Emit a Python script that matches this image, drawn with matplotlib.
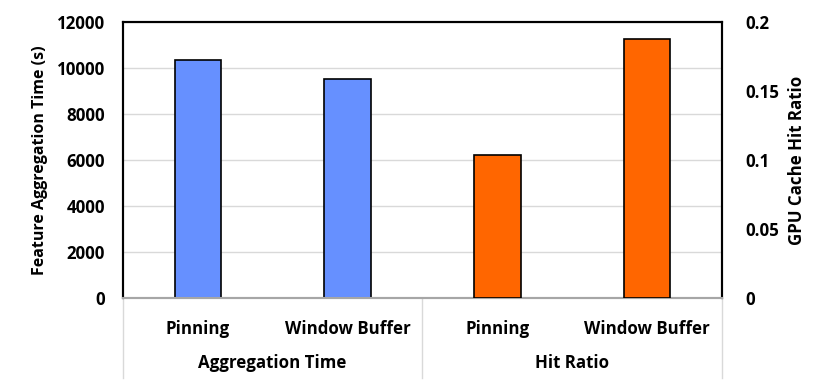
import matplotlib.pyplot as plt
from matplotlib.lines import Line2D
from matplotlib import rc

rc('font', family='Open Sans', weight='bold')
rc('axes', labelweight='bold')

# data
methods = ['Pinning', 'Window Buffer', 'Pinning', 'Window Buffer']
groups = ['Aggregation Time', 'Hit Ratio']
agg_time = [10350, 9530]
hit_ratio = [0.1036, 0.1877]

fig = plt.figure(figsize=(8.3, 3.86), dpi=100)
ax = fig.add_axes([0.148, 0.228, 0.722, 0.715])
ax2 = ax.twinx()

bw = 0.31
ax.bar([0, 1], agg_time, width=bw, color='#6690FF', edgecolor='black', linewidth=1.2, zorder=3)
ax2.bar([2, 3], hit_ratio, width=bw, color='#FF6600', edgecolor='black', linewidth=1.2, zorder=3)

ax.set_xlim(-0.5, 3.5)
ax.set_ylim(0, 12000)
ax2.set_ylim(0, 0.2)
ax.set_yticks(range(0, 12001, 2000))
ax2.set_yticks([0, 0.05, 0.1, 0.15, 0.2])
ax2.set_yticklabels(['0', '0.05', '0.1', '0.15', '0.2'])
ax.yaxis.grid(True, color='#d9d9d9', linewidth=1)
ax.set_axisbelow(True)

fs = 12.2
ax.set_xticks(range(4))
ax.set_xticklabels(methods, fontsize=fs)
ax.tick_params(axis='x', length=0, pad=16)
ax.tick_params(axis='y', length=0, labelsize=fs, pad=13)
ax2.tick_params(axis='y', length=0, labelsize=fs, pad=17)

ax.set_ylabel('Feature Aggregation Time (s)', fontsize=11.5, labelpad=6)
ax2.set_ylabel('GPU Cache Hit Ratio', fontsize=fs, labelpad=6)

for a in (ax, ax2):
    for s in ('left', 'top', 'right'):
        a.spines[s].set_color('black')
        a.spines[s].set_linewidth(1.5)
    a.spines['bottom'].set_color('#a6a6a6')
    a.spines['bottom'].set_linewidth(1.5)

# group separators and labels below the axis
for xs in (0.0, 0.5, 1.0):
    ax.add_line(Line2D([xs, xs], [0, -0.29], transform=ax.transAxes,
                       color='#d9d9d9', linewidth=1, clip_on=False))
for i, g in enumerate(groups):
    ax.text(0.25 + 0.5 * i, -0.235, g, transform=ax.transAxes,
            ha='center', va='center', fontsize=fs)

fig.savefig('out.png', dpi=100)
